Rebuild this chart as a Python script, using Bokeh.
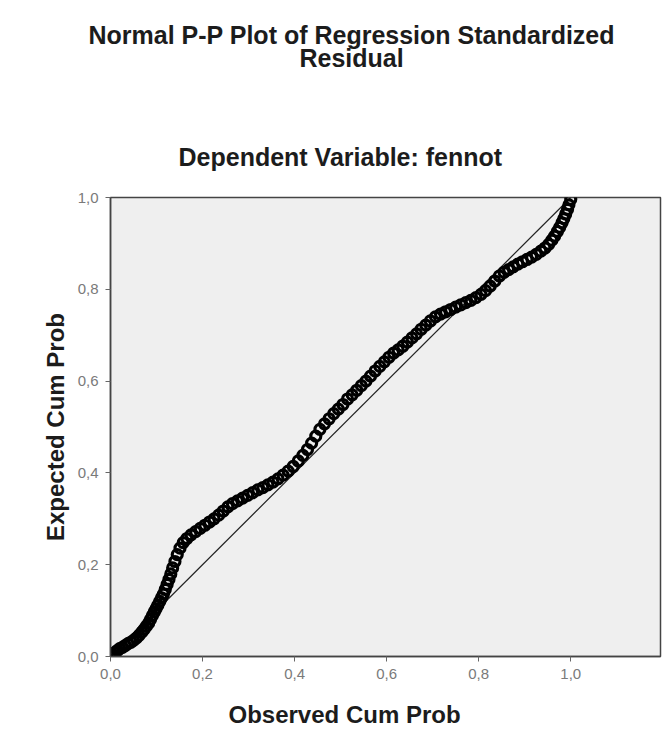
from bokeh.plotting import figure
from bokeh.models import FixedTicker, Range1d, Title
from bokeh.embed import file_html
from bokeh.resources import INLINE

# Observed cumulative probability (x) and expected cumulative probability (y)
observed_cum_prob = [
    0.000, 0.005, 0.010, 0.015, 0.020, 0.026, 0.032, 0.038, 0.044, 0.050,
    0.056, 0.062, 0.068, 0.073, 0.078, 0.083, 0.087, 0.091, 0.095, 0.099,
    0.103, 0.107, 0.111, 0.115, 0.119, 0.123, 0.127, 0.131, 0.135, 0.140,
    0.145, 0.151, 0.158, 0.166, 0.175, 0.185, 0.195, 0.205, 0.215, 0.225,
    0.235, 0.245, 0.255, 0.265, 0.276, 0.287, 0.298, 0.309, 0.320, 0.331,
    0.342, 0.353, 0.364, 0.375, 0.386, 0.397, 0.408, 0.418, 0.428, 0.437,
    0.446, 0.455, 0.465, 0.475, 0.485, 0.495, 0.505, 0.515, 0.525, 0.535,
    0.545, 0.555, 0.565, 0.575, 0.585, 0.595, 0.605, 0.615, 0.625, 0.635,
    0.645, 0.655, 0.665, 0.675, 0.685, 0.695, 0.706, 0.717, 0.728, 0.739,
    0.750, 0.761, 0.772, 0.783, 0.794, 0.805, 0.815, 0.825, 0.835, 0.845,
    0.855, 0.865, 0.875, 0.885, 0.895, 0.905, 0.915, 0.925, 0.935, 0.944,
    0.952, 0.959, 0.965, 0.971, 0.976, 0.981, 0.985, 0.989, 0.993, 0.996,
    1.000,
]
expected_cum_prob = [
    0.000, 0.004, 0.009, 0.013, 0.017, 0.020, 0.024, 0.028, 0.031, 0.035,
    0.040, 0.046, 0.053, 0.059, 0.066, 0.073, 0.081, 0.089, 0.097, 0.104,
    0.112, 0.120, 0.128, 0.136, 0.146, 0.157, 0.168, 0.180, 0.193, 0.207,
    0.222, 0.236, 0.248, 0.257, 0.265, 0.272, 0.279, 0.286, 0.293, 0.300,
    0.308, 0.317, 0.326, 0.333, 0.339, 0.345, 0.351, 0.357, 0.363, 0.368,
    0.374, 0.380, 0.387, 0.395, 0.404, 0.414, 0.426, 0.438, 0.451, 0.465,
    0.480, 0.495, 0.507, 0.518, 0.529, 0.539, 0.549, 0.561, 0.570, 0.580,
    0.590, 0.600, 0.611, 0.622, 0.632, 0.642, 0.652, 0.661, 0.668, 0.676,
    0.685, 0.694, 0.703, 0.713, 0.722, 0.731, 0.740, 0.746, 0.751, 0.756,
    0.761, 0.766, 0.771, 0.776, 0.782, 0.789, 0.797, 0.807, 0.818, 0.829,
    0.837, 0.843, 0.849, 0.855, 0.860, 0.865, 0.870, 0.876, 0.883, 0.890,
    0.898, 0.907, 0.916, 0.926, 0.935, 0.945, 0.954, 0.964, 0.974, 0.984,
    0.996,
]
# Reference diagonal
diag_x = [0.0, 1.0]
diag_y = [0.0, 1.0]

tick_values = [0.0, 0.2, 0.4, 0.6, 0.8, 1.0]
tick_labels = ["0,0", "0,2", "0,4", "0,6", "0,8", "1,0"]

title_line1 = "Normal P-P Plot of Regression Standardized"
title_line2 = "Residual"
subtitle = "Dependent Variable: fennot"
x_label = "Observed Cum Prob"
y_label = "Expected Cum Prob"

FONT = "Liberation Sans"
TXT = "#1c1c1c"

p = figure(
    width=662, height=729,
    output_backend="svg", toolbar_location=None,
    x_range=Range1d(0, 1.195), y_range=Range1d(0, 1.0),
    min_border_left=110, min_border_right=2,
    min_border_top=197, min_border_bottom=73,
    background_fill_color="#efefef", border_fill_color="white",
    outline_line_color="#444444", outline_line_width=1.5,
)
p.title.visible = False
p.grid.visible = False

def add_title(text, size, standoff, offset, side="above", valign="bottom"):
    p.add_layout(Title(text=text, align="left", offset=offset,
                       vertical_align=valign, text_font=FONT,
                       text_font_size=size, text_font_style="bold",
                       text_color=TXT, standoff=standoff), side)

add_title(subtitle, "25px", 54, 68)
add_title(" ", "1px", 39, 0)          # spacing between subtitle and main title
add_title(title_line2, "25px", 0, 189)
add_title(title_line1, "25px", -14, -22)
add_title(x_label, "24px", 0, 118, side="below", valign="top")

for ax in (p.xaxis[0], p.yaxis[0]):
    ax.ticker = FixedTicker(ticks=tick_values)
    ax.major_label_overrides = {v: l for v, l in zip(tick_values, tick_labels)}
    ax.major_label_text_font = FONT
    ax.major_label_text_font_size = "15px"
    ax.major_label_text_color = "#7a7a7a"
    ax.major_tick_in = 0
    ax.major_tick_out = 5
    ax.minor_tick_in = 0
    ax.minor_tick_out = 0
    ax.axis_line_color = "#444444"
    ax.axis_line_width = 1.5
    ax.major_tick_line_color = "#666666"

# x axis: tiny blank label only reserves room above the centred title below
p.xaxis.axis_label = " "
p.xaxis.axis_label_text_font_size = "1px"
p.xaxis.axis_label_standoff = 15

p.yaxis.axis_label = y_label
p.yaxis.axis_label_text_font = FONT
p.yaxis.axis_label_text_font_size = "24px"
p.yaxis.axis_label_text_font_style = "bold"
p.yaxis.axis_label_text_color = TXT
p.xaxis.major_label_standoff = 7
p.yaxis.major_label_standoff = 7
p.yaxis.axis_label_standoff = 6

p.line(diag_x, diag_y, line_color="#222222", line_width=1.2)
p.scatter(observed_cum_prob, expected_cum_prob, marker="circle", size=10,
          fill_color=None, line_color="black", line_width=3.2)

open("out.html", "w").write(file_html(p, INLINE))
